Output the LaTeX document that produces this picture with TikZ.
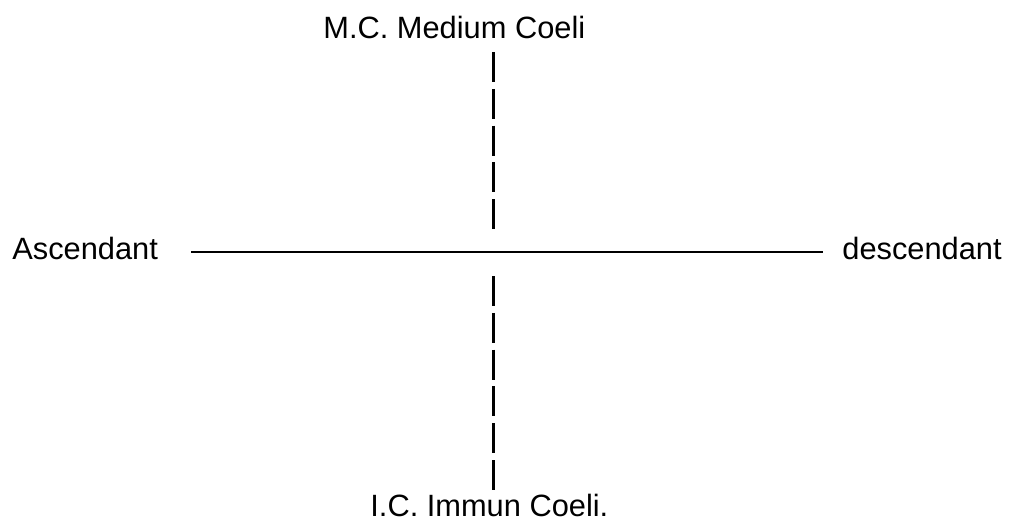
\documentclass[tikz,border=0pt]{standalone}
\usepackage{fontspec}
\setmainfont{Liberation Sans}
\begin{document}
\begin{tikzpicture}[%
x=0.5pt, y=-0.5pt,
txt/.style={inner sep=0pt, anchor=base west, font=\fontsize{15.4pt}{18pt}\selectfont},
barline/.style={line width=1.1pt, dash pattern=on 15pt off 3.4pt},
axisline/.style={line width=1pt},
]
\useasboundingbox (0,0) rectangle (1009,520);
%% labels;
\node[txt] (mc) at (323,38) {M.C. Medium Coeli};
\node[txt] (asc) at (12,259) {Ascendant};
\node[txt] (desc) at (842,259) {descendant};
\node[txt] (ic) at (370,516) {I.C. Immun Coeli.};
%% horizon;
\coordinate (hl) at (191,252);
\coordinate (hr) at (823,252);
\draw[axisline] (hl) -- (hr);
%% meridian;
\coordinate (mtop) at (493.5,52);
\coordinate (mmid) at (493.5,230);
\coordinate (imid) at (493.5,276);
\coordinate (ibot) at (493.5,490);
\draw[barline] (mtop) -- (mmid);
\draw[barline] (imid) -- (ibot);
\end{tikzpicture}
\end{document}
